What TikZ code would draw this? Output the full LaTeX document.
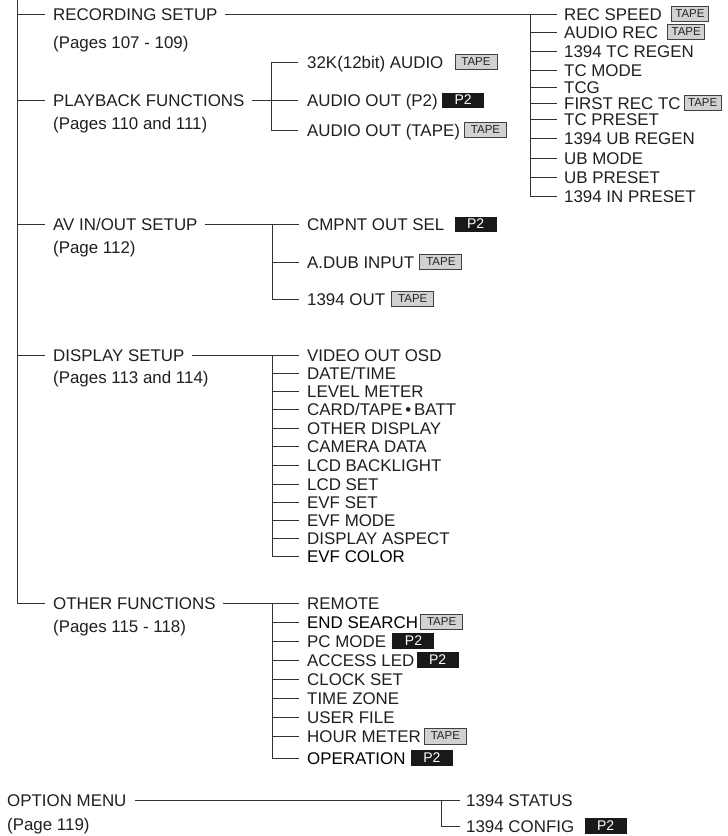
\documentclass[tikz,border=0pt]{standalone}
\usepackage{fontspec}
\setmainfont{Liberation Sans}
\begin{document}
\begin{tikzpicture}[x=1pt,y=-1pt,
  lbl/.style={anchor=west, inner sep=0pt, text height=12pt, text depth=0pt,
    font=\fontsize{16.9}{18}\selectfont, text=black!88},
  tapebadge/.style={draw=black!75, fill=black!18, line width=0.8pt, inner sep=0pt,
    minimum width=42pt, minimum height=15pt, font=\fontsize{11.5}{11.5}\selectfont,
    text=black!85, anchor=west},
  ptwobadge/.style={fill=black!90, text=white, inner sep=0pt, minimum width=42pt,
    minimum height=15pt, font=\fontsize{14}{14}\selectfont, anchor=west},
  conn/.style={draw=black!80, line width=0.9pt}]
\useasboundingbox (0,0) rectangle (728,836);

% ---------- level 1 titles ----------
\node[lbl] (rs)  at (53,14)  {RECORDING SETUP};
\node[lbl] (rsp) at (53,42)  {(Pages 107 - 109)};
\node[lbl] (pb)  at (53,100) {PLAYBACK FUNCTIONS};
\node[lbl] (pbp) at (53,123) {(Pages 110 and 111)};
\node[lbl] (av)  at (53,224) {AV IN/OUT SETUP};
\node[lbl] (avp) at (53,247) {(Page 112)};
\node[lbl] (ds)  at (53,355) {DISPLAY SETUP};
\node[lbl] (dsp) at (53,377) {(Pages 113 and 114)};
\node[lbl] (of)  at (53,603) {OTHER FUNCTIONS};
\node[lbl] (ofp) at (53,626) {(Pages 115 - 118)};
\node[lbl] (om)  at (7,800)  {OPTION MENU};
\node[lbl] (omp) at (7,824)  {(Page 119)};

% ---------- spine ----------
\coordinate (spine) at (17,0);
\draw[conn] (spine) |- ([xshift=-8pt]of.west);
\foreach \n in {rs,pb,av,ds}
  \draw[conn] (\n.west -| spine) -- ([xshift=-8pt]\n.west);

% ---------- recording setup children ----------
\coordinate (rv) at (530,0);
\node[lbl] (r1)  at (564,14)  {REC SPEED};
\node[lbl] (r2)  at (564,32)  {AUDIO REC};
\node[lbl] (r3)  at (564,51)  {1394 TC REGEN};
\node[lbl] (r4)  at (564,70)  {TC MODE};
\node[lbl] (r5)  at (564,87)  {TCG};
\node[lbl] (r6)  at (564,103) {FIRST REC TC};
\node[lbl] (r7)  at (564,119) {TC PRESET};
\node[lbl] (r8)  at (564,138) {1394 UB REGEN};
\node[lbl] (r9)  at (564,158) {UB MODE};
\node[lbl] (r10) at (564,177) {UB PRESET};
\node[lbl] (r11) at (564,196) {1394 IN PRESET};
\node[tapebadge, minimum width=37pt] (b1) at ([xshift=9pt]r1.east) {TAPE};
\node[tapebadge, minimum width=37pt] (b2) at ([xshift=9pt]r2.east) {TAPE};
\node[tapebadge, minimum width=37pt] (b6) at ([xshift=3pt]r6.east) {TAPE};
\draw[conn] ([xshift=7pt]rs.east) -- ([xshift=-7pt]r1.west);
\draw[conn] (r1.west -| rv) -- (r11.west -| rv);
\foreach \n in {r2,r3,r4,r5,r6,r7,r8,r9,r10,r11}
  \draw[conn] (\n.west -| rv) -- ([xshift=-7pt]\n.west);

% ---------- playback children ----------
\coordinate (pv) at (271,0);
\node[lbl] (p1) at (307,62)  {32K(12bit) AUDIO};
\node[lbl] (p2) at (307,100) {AUDIO OUT (P2)};
\node[lbl] (p3) at (307,130) {AUDIO OUT (TAPE)};
\node[tapebadge] (pb1) at ([xshift=11pt]p1.east) {TAPE};
\node[ptwobadge] (pb2) at ([xshift=4pt]p2.east) {P2};
\node[tapebadge] (pb3) at ([xshift=4pt]p3.east) {TAPE};
\draw[conn] ([xshift=7pt]pb.east) -- ([xshift=-9pt]p2.west);
\draw[conn] (p1.west -| pv) -- (p3.west -| pv);
\foreach \n in {p1,p3}
  \draw[conn] (\n.west -| pv) -- ([xshift=-9pt]\n.west);

% ---------- AV in/out children ----------
\coordinate (av2) at (272,0);
\node[lbl] (a1) at (307,224) {CMPNT OUT SEL};
\node[lbl] (a2) at (307,262) {A.DUB INPUT};
\node[lbl] (a3) at (307,299) {1394 OUT};
\node[ptwobadge] (ab1) at ([xshift=10pt]a1.east) {P2};
\node[tapebadge] (ab2) at ([xshift=5pt]a2.east) {TAPE};
\node[tapebadge] (ab3) at ([xshift=6pt]a3.east) {TAPE};
\draw[conn] ([xshift=7pt]av.east) -- ([xshift=-8pt]a1.west);
\draw[conn] (a1.west -| av2) -- (a3.west -| av2);
\foreach \n in {a2,a3}
  \draw[conn] (\n.west -| av2) -- ([xshift=-8pt]\n.west);

% ---------- display setup children ----------
\coordinate (dv) at (272,0);
\node[lbl] (d1)  at (307,355) {VIDEO OUT OSD};
\node[lbl] (d2)  at (307,373) {DATE/TIME};
\node[lbl] (d3)  at (307,391) {LEVEL METER};
\node[lbl] (d4)  at (307,409) {CARD/TAPE\,•\,BATT};
\node[lbl] (d5)  at (307,428) {OTHER DISPLAY};
\node[lbl] (d6)  at (307,446) {CAMERA DATA};
\node[lbl] (d7)  at (307,465) {LCD BACKLIGHT};
\node[lbl] (d8)  at (307,484) {LCD SET};
\node[lbl] (d9)  at (307,502) {EVF SET};
\node[lbl] (d10) at (307,520) {EVF MODE};
\node[lbl] (d11) at (307,538) {DISPLAY ASPECT};
\node[lbl, text=black] (d12) at (307,556) {EVF COLOR};
\draw[conn] ([xshift=7pt]ds.east) -- ([xshift=-8pt]d1.west);
\draw[conn] (d1.west -| dv) -- (d12.west -| dv);
\foreach \n in {d2,d3,d4,d5,d6,d7,d8,d9,d10,d11,d12}
  \draw[conn] (\n.west -| dv) -- ([xshift=-8pt]\n.west);

% ---------- other functions children ----------
\coordinate (ov) at (272,0);
\node[lbl] (o1) at (307,603) {REMOTE};
\node[lbl, text=black] (o2) at (307,622) {END SEARCH};
\node[lbl] (o3) at (307,641) {PC MODE};
\node[lbl] (o4) at (307,660) {ACCESS LED};
\node[lbl] (o5) at (307,679) {CLOCK SET};
\node[lbl] (o6) at (307,698) {TIME ZONE};
\node[lbl] (o7) at (307,717) {USER FILE};
\node[lbl] (o8) at (307,736) {HOUR METER};
\node[lbl, text=black] (o9) at (307,758) {OPERATION};
\node[tapebadge] (ob2) at ([xshift=2pt]o2.east) {TAPE};
\node[ptwobadge, minimum height=16pt] (ob3) at ([xshift=6pt]o3.east) {P2};
\node[ptwobadge, minimum height=16pt] (ob4) at ([xshift=2pt]o4.east) {P2};
\node[tapebadge, minimum height=16pt] (ob8) at ([xshift=3pt]o8.east) {TAPE};
\node[ptwobadge, minimum height=16pt] (ob9) at ([xshift=5pt]o9.east) {P2};
\draw[conn] ([xshift=7pt]of.east) -- ([xshift=-8pt]o1.west);
\draw[conn] (o1.west -| ov) -- (o9.west -| ov);
\foreach \n in {o2,o3,o4,o5,o6,o7,o8,o9}
  \draw[conn] (\n.west -| ov) -- ([xshift=-8pt]\n.west);

% ---------- option menu children ----------
\coordinate (mv) at (441,0);
\node[lbl] (m1) at (466,800) {1394 STATUS};
\node[lbl] (m2) at (466,826) {1394 CONFIG};
\node[ptwobadge, minimum height=16pt] (mb2) at ([xshift=10pt]m2.east) {P2};
\draw[conn] ([xshift=8pt]om.east) -- ([xshift=-6pt]m1.west);
\draw[conn] (m1.west -| mv) -- (m2.west -| mv);
\draw[conn] (m2.west -| mv) -- ([xshift=-6pt]m2.west);
\end{tikzpicture}
\end{document}
